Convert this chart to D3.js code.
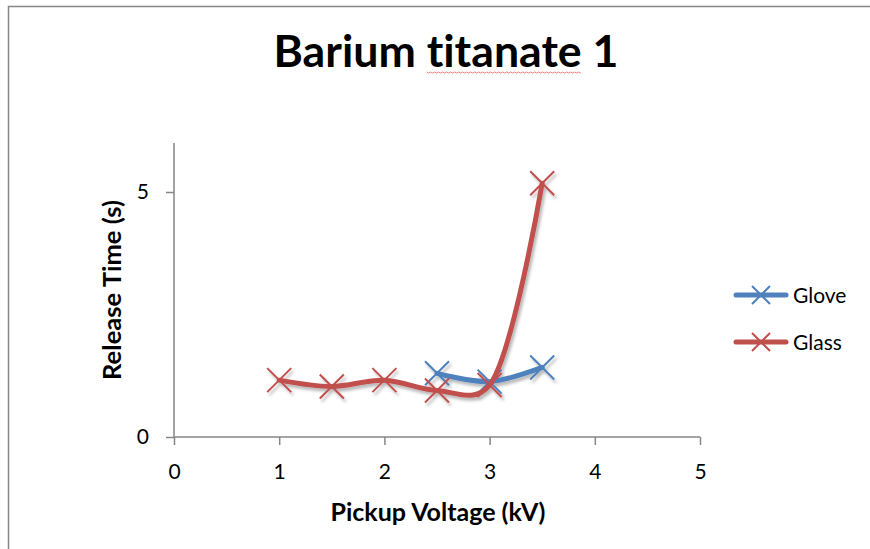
<!DOCTYPE html>
<html>
<head>
<meta charset="utf-8">
<script src="https://cdn.jsdelivr.net/npm/d3@7"></script>
<style>
  html, body { margin: 0; padding: 0; background: #ffffff; }
  svg { display: block; }
  text { font-family: Lato, "Open Sans", "Liberation Sans", sans-serif; fill: #000; font-variant-ligatures: none; }
</style>
</head>
<body>
<svg id="chart" width="870" height="549"></svg>
<script>
// Series data: pickup voltage (kV) vs release time (s)
const gloveX = [2.5, 3.0, 3.5];
const gloveY = [1.30, 1.13, 1.42];
const glassX = [1.0, 1.5, 2.0, 2.5, 3.0, 3.5];
const glassY = [1.16, 1.03, 1.16, 0.95, 1.06, 5.18];
const seriesNames = ["Glove", "Glass"];
const seriesColors = ["#4F81BD", "#C0504D"];
const xTicks = [0, 1, 2, 3, 4, 5];
const yTicks = [0, 5];
const titleText = "Barium titanate 1";
const xTitle = "Pickup Voltage (kV)";
const yTitle = "Release Time (s)";

const svg = d3.select("#chart");
const axisColor = "#868686";

// outer chart frame
svg.append("rect")
  .attr("x", 8.5).attr("y", 6.5)
  .attr("width", 900).attr("height", 600)
  .attr("fill", "#fff")
  .attr("stroke", axisColor).attr("stroke-width", 1.5);

// soft shadow under the series lines
const defs = svg.append("defs");
const f = defs.append("filter").attr("id", "shadow")
  .attr("x", "-20%").attr("y", "-20%").attr("width", "140%").attr("height", "140%");
f.append("feDropShadow")
  .attr("dx", 2).attr("dy", 3).attr("stdDeviation", 1.8)
  .attr("flood-color", "#000").attr("flood-opacity", 0.28);

const x = d3.scaleLinear().domain([0, 5]).range([174, 700]);
const y = d3.scaleLinear().domain([0, 6]).range([437, 143]);

// fit a text element to a target width
function fitWidth(sel, target) {
  const node = sel.node();
  const fs = parseFloat(sel.attr("font-size"));
  const w = node.getComputedTextLength();
  sel.attr("font-size", (fs * target / w).toFixed(2));
}

// title
const title = svg.append("text")
  .attr("x", 446).attr("y", 67)
  .attr("text-anchor", "middle")
  .attr("font-size", 40).attr("font-weight", "bold")
  .text(titleText);
fitWidth(title, 345);

// spell-check style squiggle under the second word of the title
{
  const bb = title.node();
  const full = bb.getComputedTextLength();
  const startX = 446 - full / 2;
  const pre = bb.getSubStringLength(0, 7);
  const wordLen = bb.getSubStringLength(7, 8);
  const x0 = startX + pre, x1 = x0 + wordLen;
  const pts = [];
  for (let px = x0; px <= x1; px += 2) pts.push([px, 72 + ((Math.round((px - x0) / 2) % 2) ? 1 : 0)]);
  svg.append("path")
    .attr("d", d3.line()(pts))
    .attr("fill", "none").attr("stroke", "#f08080").attr("stroke-width", 1);
}

// axes
const xAxis = d3.axisBottom(x).tickValues(xTicks).tickSize(8).tickPadding(19).tickFormat(d3.format("d"));
const yAxis = d3.axisLeft(y).tickValues(yTicks).tickSize(8).tickPadding(17).tickFormat(d3.format("d"));

const gx = svg.append("g").attr("transform", `translate(0,${y(0)})`).call(xAxis);
const gy = svg.append("g").attr("transform", `translate(${x(0)},0)`).call(yAxis);
gy.select(".domain").attr("d", `M0,${y(6)}V${y(0)}`);
gx.select(".domain").attr("d", `M${x(0)},0H${x(5)}`);
[gx, gy].forEach(g => {
  g.selectAll(".domain, .tick line").attr("stroke", axisColor).attr("stroke-width", 1.5);
  g.selectAll(".tick text")
    .attr("font-family", "Lato, 'Open Sans', sans-serif")
    .attr("font-size", 21).attr("fill", "#000");
});
gx.selectAll(".tick text").attr("dy", "0.72em");

// axis titles
const xt = svg.append("text")
  .attr("x", 438).attr("y", 521)
  .attr("text-anchor", "middle")
  .attr("font-size", 20).attr("font-weight", "bold")
  .text(xTitle);
fitWidth(xt, 215);

const yt = svg.append("text")
  .attr("transform", "translate(121,290) rotate(-90)")
  .attr("text-anchor", "middle")
  .attr("font-size", 20).attr("font-weight", "bold")
  .text(yTitle);
fitWidth(yt, 180);

// series
const series = [
  { name: seriesNames[0], color: seriesColors[0], pts: gloveX.map((v, i) => [v, gloveY[i]]) },
  { name: seriesNames[1], color: seriesColors[1], pts: glassX.map((v, i) => [v, glassY[i]]) }
];

const line = d3.line()
  .x(d => x(d[0])).y(d => y(d[1]))
  .curve(d3.curveCatmullRom.alpha(0.3));

function cross(g, cx, cy, r, color) {
  g.append("path")
    .attr("d", `M${cx - r},${cy - r}L${cx + r},${cy + r}M${cx - r},${cy + r}L${cx + r},${cy - r}`)
    .attr("stroke", color).attr("stroke-width", 2).attr("fill", "none");
}

const plot = svg.append("g").attr("filter", "url(#shadow)");
series.forEach(s => {
  const g = plot.append("g");
  g.append("path")
    .attr("d", line(s.pts))
    .attr("fill", "none")
    .attr("stroke", s.color)
    .attr("stroke-width", 5)
    .attr("stroke-linecap", "round");
  s.pts.forEach(p => cross(g, x(p[0]), y(p[1]), 12, s.color));
});

// legend
const legend = svg.append("g");
series.forEach((s, i) => {
  const ly = 295 + i * 47;
  legend.append("line")
    .attr("x1", 736).attr("x2", 786).attr("y1", ly).attr("y2", ly)
    .attr("stroke", s.color).attr("stroke-width", 5).attr("stroke-linecap", "round");
  cross(legend, 761, ly, 9, s.color);
  legend.append("text")
    .attr("x", 793).attr("y", ly).attr("dy", "0.36em")
    .attr("font-size", 21)
    .text(s.name);
});
</script>
</body>
</html>
